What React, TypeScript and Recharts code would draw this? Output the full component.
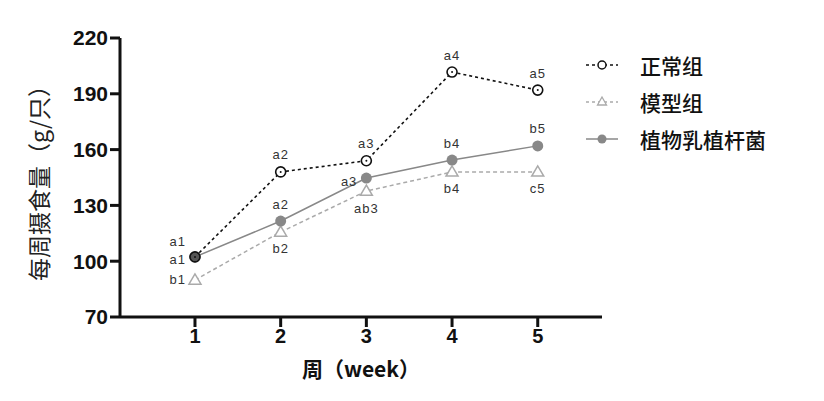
import { LineChart, Line, XAxis, YAxis, LabelList } from 'recharts'

const weeks = [1, 2, 3, 4, 5]
const normal = [102.3, 148, 154, 201.7, 192]
const model = [89.9, 115.7, 137.7, 148, 148]
const lacto = [102.3, 121.6, 144.7, 154.4, 162]
const normalLabels = ['a1', 'a2', 'a3', 'a4', 'a5']
const modelLabels = ['b1', 'b2', 'ab3', 'b4', 'c5']
const lactoLabels = ['a1', 'a2', 'a3', 'b4', 'b5']
const yTicks = [70, 100, 130, 160, 190, 220]

const seriesNames = ['正常组', '模型组', '植物乳植杆菌']

const data = weeks.map((w, i) => ({
  week: w,
  normal: normal[i],
  model: model[i],
  lacto: lacto[i],
}))

const labelFont = { fontFamily: 'Arial, "Liberation Sans", sans-serif', fontSize: 13, fill: '#333', letterSpacing: 1 }

// where each series puts its letters: 'up', 'down' or 'left' of the point
function makeLabel(labels: string[], side: (i: number) => string, leftDy = 0) {
  return (props: any) => {
    const { x, y, index } = props
    const s = side(index)
    let tx = x, ty = y, anchor: 'middle' | 'end' = 'middle'
    if (s === 'up') ty = y - 17
    else if (s === 'down') ty = y + 17
    else { tx = x - 9; ty = y + leftDy; anchor = 'end' }
    return (
      <text x={tx} y={ty} textAnchor={anchor} dominantBaseline="central" {...labelFont}>
        {labels[index]}
      </text>
    )
  }
}

function OpenCircle(props: any) {
  const { cx, cy, index } = props
  return (
    <g key={`n-${index}`}>
      <circle cx={cx} cy={cy} r={5} fill="#fff" fillOpacity={index === 0 ? 0 : 1} stroke="#111" strokeWidth={1.6} />
      <circle cx={cx} cy={cy} r={1} fill="#111" />
    </g>
  )
}

function Triangle(props: any) {
  const { cx, cy, index } = props
  const r = 6
  return (
    <polygon
      key={`m-${index}`}
      points={`${cx},${cy - r} ${cx - r},${cy + r * 0.7} ${cx + r},${cy + r * 0.7}`}
      fill="#fff"
      stroke="#aaa"
      strokeWidth={1.5}
    />
  )
}

function Filled(props: any) {
  const { cx, cy, index } = props
  return <circle key={`l-${index}`} cx={cx} cy={cy} r={5.5} fill={index === 0 ? '#555' : '#888'} stroke="none" />
}

function LegendBox() {
  const items = [
    { name: seriesNames[0], color: '#111', dash: '3 3', kind: 'circle' },
    { name: seriesNames[1], color: '#aaa', dash: '3 3', kind: 'tri' },
    { name: seriesNames[2], color: '#888', dash: '', kind: 'dot' },
  ]
  return (
    <div style={{ position: 'absolute', left: 584, top: 46, fontFamily: '"Noto Sans CJK SC", sans-serif' }}>
      {items.map((it) => (
        <div key={it.name} style={{ display: 'flex', alignItems: 'center', height: 37 }}>
          <svg width={36} height={14} style={{ marginRight: 20 }}>
            <line x1={2} y1={7} x2={34} y2={7} stroke={it.color} strokeWidth={1.5} strokeDasharray={it.dash} />
            {it.kind === 'circle' && <circle cx={18} cy={7} r={4} fill="#fff" stroke={it.color} strokeWidth={1.5} />}
            {it.kind === 'tri' && <polygon points="18,2 13.5,10 22.5,10" fill="#fff" stroke={it.color} strokeWidth={1.3} />}
            {it.kind === 'dot' && <circle cx={18} cy={7} r={4.5} fill={it.color} />}
          </svg>
          <span style={{ fontSize: 21, fontWeight: 500, color: '#111' }}>{it.name}</span>
        </div>
      ))}
    </div>
  )
}

export default function App() {
  return (
    <div style={{ position: 'absolute', left: 0, top: 0, width: 824, height: 401, background: '#fff' }}>
      <LineChart width={824} height={401} data={data} margin={{ top: 38, right: 222, bottom: 52, left: 30 }}>
        <XAxis
          dataKey="week"
          type="number"
          domain={[0.125, 5.75]}
          ticks={weeks}
          axisLine={{ stroke: '#111', strokeWidth: 3 }}
          tickLine={{ stroke: '#111', strokeWidth: 3 }}
          tickSize={10}
          tick={{ fill: '#111', fontSize: 20, fontWeight: 700, fontFamily: 'Arial, "Liberation Sans", sans-serif' }}
          tickFormatter={(v) => String(v)}
          height={32}
          label={{
            value: '周（week）',
            position: 'insideBottom',
            offset: -28,
            fill: '#111',
            style: { fill: '#111', fontSize: 21, fontWeight: 700, fontFamily: '"Noto Sans CJK SC", Arial, sans-serif' },
          }}
        />
        <YAxis
          type="number"
          domain={[70, 220]}
          ticks={yTicks}
          width={90}
          axisLine={{ stroke: '#111', strokeWidth: 3 }}
          tickLine={{ stroke: '#111', strokeWidth: 3 }}
          tickSize={10}
          tick={{ fill: '#111', fontSize: 21, fontWeight: 700, fontFamily: 'Arial, "Liberation Sans", sans-serif' }}
          label={{
            value: '每周摄食量（g/只）',
            angle: -90,
            position: 'insideLeft',
            offset: 10,
            fill: '#222',
            style: { textAnchor: 'middle', fill: '#222', fontSize: 23, fontFamily: '"Noto Sans CJK SC", sans-serif' },
          }}
        />
        <Line
          dataKey="model"
          name={seriesNames[1]}
          stroke="#aaa"
          strokeWidth={1.5}
          strokeDasharray="4 3"
          dot={Triangle}
          activeDot={false}
          isAnimationActive={false}
        >
          <LabelList dataKey="model" content={makeLabel(modelLabels, (i) => (i === 0 ? 'left' : 'down'), 0)} />
        </Line>
        <Line
          dataKey="lacto"
          name={seriesNames[2]}
          stroke="#888"
          strokeWidth={1.5}
          dot={Filled}
          activeDot={false}
          isAnimationActive={false}
        >
          <LabelList dataKey="lacto" content={makeLabel(lactoLabels, (i) => (i === 0 || i === 2 ? 'left' : 'up'), 3)} />
        </Line>
        <Line
          dataKey="normal"
          name={seriesNames[0]}
          stroke="#111"
          strokeWidth={1.6}
          strokeDasharray="3 3"
          dot={OpenCircle}
          activeDot={false}
          isAnimationActive={false}
        >
          <LabelList dataKey="normal" content={makeLabel(normalLabels, (i) => (i === 0 ? 'left' : 'up'), -15)} />
        </Line>
      </LineChart>
      <LegendBox />
    </div>
  )
}
